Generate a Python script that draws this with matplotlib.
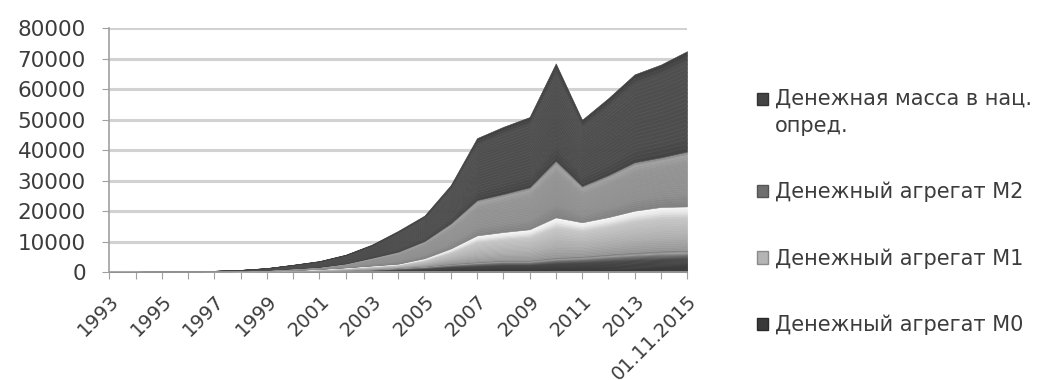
import numpy as np
import matplotlib
matplotlib.use('Agg')
import matplotlib.pyplot as plt
from matplotlib.patches import Patch

# categories on the x axis
years = ['1993', '1994', '1995', '1996', '1997', '1998', '1999', '2000', '2001',
         '2002', '2003', '2004', '2005', '2006', '2007', '2008', '2009', '2010',
         '2011', '2012', '2013', '2014', '01.11.2015']

# series (stacked), values
m0 = [5, 15, 25, 45, 75, 130, 220, 320, 450, 700, 1000, 1500, 2000, 2800,
      3400, 3900, 3900, 4800, 5200, 5900, 6500, 7000, 7200]
m1 = [5, 15, 25, 45, 75, 120, 200, 330, 550, 800, 1100, 1200, 2500, 4900,
      8600, 9200, 10100, 13100, 11100, 12100, 13600, 14300, 14300]
m2 = [10, 20, 40, 60, 100, 180, 330, 550, 700, 1300, 2600, 4000, 5700, 8300,
      11600, 12500, 13800, 18600, 11900, 13800, 15900, 16300, 18000]
broad = [10, 30, 60, 100, 150, 270, 550, 1200, 1900, 2900, 4300, 6800, 8300,
         12500, 20300, 22000, 23000, 31900, 21700, 25200, 28800, 30400, 32900]

names = ['Денежная масса в нац.\nопред.', 'Денежный агрегат М2',
         'Денежный агрегат М1', 'Денежный агрегат М0']

txt = '#3c3c3c'
plt.rcParams['font.family'] = ['DejaVu Sans']


def band(ax, x, lo, hi, stops, n=24):
    # fake the excel 3d shading with thin sub-bands
    fr = [s[0] for s in stops]
    gr = [s[1] for s in stops]
    for k in range(n):
        f0, f1 = k / n, (k + 1) / n
        g = np.interp((f0 + f1) / 2, fr, gr)
        c = (g, g, g)
        ax.fill_between(x, lo + (hi - lo) * f0, lo + (hi - lo) * f1,
                        facecolor=c, edgecolor=c, lw=0.4, zorder=2)


fig = plt.figure(figsize=(10.57, 3.8), dpi=100)
ax = fig.add_axes([0.1035, 0.2842, 0.5465, 0.6421])

x = np.arange(len(years))
c0 = np.array(m0, float)
c1 = c0 + np.array(m1)
c2 = c1 + np.array(m2)
c3 = c2 + np.array(broad)
zero = np.zeros_like(c0)

band(ax, x, zero, c0, [(0, 0.20), (0.6, 0.28), (0.8, 0.45), (0.9, 0.62), (1, 0.45)])
band(ax, x, c0, c1, [(0, 0.58), (0.3, 0.68), (0.75, 0.78), (0.9, 0.92), (1, 0.97)])
band(ax, x, c1, c2, [(0, 0.50), (0.25, 0.56), (0.8, 0.58), (0.95, 0.63), (1, 0.5)])
band(ax, x, c2, c3, [(0, 0.26), (0.15, 0.30), (0.9, 0.31), (1, 0.24)])

ax.set_xlim(0, len(years) - 1)
ax.set_ylim(0, 80000)
ax.set_yticks(np.arange(0, 80001, 10000))
ax.grid(axis='y', color='#d2d2d2', lw=2.2, zorder=0)
ax.set_axisbelow(True)

ax.set_xticks(x)
ax.set_xticklabels([y if i % 2 == 0 else '' for i, y in enumerate(years)],
                   rotation=45, ha='right', rotation_mode='anchor')
ax.tick_params(axis='x', length=5, color='#a0a0a0', labelsize=14,
               labelcolor=txt, pad=9)
ax.tick_params(axis='y', length=5, color='#a0a0a0', labelsize=15.5,
               labelcolor=txt, pad=12)

for s in ['top', 'right']:
    ax.spines[s].set_visible(False)
for s in ['left', 'bottom']:
    ax.spines[s].set_color('#a0a0a0')
    ax.spines[s].set_linewidth(1.2)

handles = [Patch(facecolor='#444444', edgecolor='#333333'),
           Patch(facecolor='#6e6e6e', edgecolor='#555555'),
           Patch(facecolor='#b4b4b4', edgecolor='#8a8a8a'),
           Patch(facecolor='#3a3a3a', edgecolor='#2a2a2a')]
leg = fig.legend(handles, names, loc='upper left',
                 bbox_to_anchor=(0.716, 0.768), frameon=False,
                 borderpad=0, borderaxespad=0, handlelength=0.55,
                 handleheight=0.55, handletextpad=0.3, labelspacing=2.2,
                 fontsize=15)
for t in leg.get_texts():
    t.set_color(txt)
leg.get_texts()[0].set_linespacing(1.5)
# first entry: marker sits next to the first line, not the middle
h0 = leg.legend_handles[0]
h0.set_y(h0.get_y() + 10)

fig.savefig('out.png', dpi=100)
